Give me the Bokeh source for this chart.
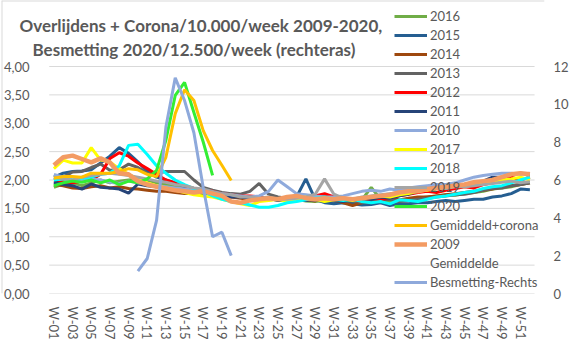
from bokeh.plotting import figure
from bokeh.models import (Range1d, LinearAxis, FixedTicker, Span,
                          CustomJSTickFormatter, Legend, LegendItem, Label)
from bokeh.embed import file_html
from bokeh.resources import INLINE

weeks = ["W-01", "W-02", "W-03", "W-04", "W-05", "W-06", "W-07", "W-08", "W-09", "W-10",
         "W-11", "W-12", "W-13", "W-14", "W-15", "W-16", "W-17", "W-18", "W-19", "W-20",
         "W-21", "W-22", "W-23", "W-24", "W-25", "W-26", "W-27", "W-28", "W-29", "W-30",
         "W-31", "W-32", "W-33", "W-34", "W-35", "W-36", "W-37", "W-38", "W-39", "W-40",
         "W-41", "W-42", "W-43", "W-44", "W-45", "W-46", "W-47", "W-48", "W-49", "W-50",
         "W-51", "W-52"]
week_nums = list(range(1, len(weeks) + 1))

y2016 = [1.87, 1.93, 1.95, 1.90, 1.95, 2.00, 1.95, 1.98, 2.00, 2.02,
         2.00, 1.95, 1.92, 1.88, 1.85, 1.82, 1.80, 1.78, 1.75, 1.72,
         1.70, 1.68, 1.66, 1.66, 1.65, 1.64, 1.66, 1.63, 1.62, 1.64,
         1.62, 1.63, 1.60, 1.65, 1.87, 1.66, 1.62, 1.63, 1.66, 1.68,
         1.70, 1.72, 1.74, 1.73, 1.76, 1.78, 1.80, 1.84, 1.86, 1.88, 1.92, 1.95]
y2015 = [2.05, 2.12, 2.15, 2.16, 2.18, 2.30, 2.42, 2.57, 2.47, 2.32,
         2.15, 2.05, 2.00, 1.95, 1.88, 1.85, 1.80, 1.78, 1.76, 1.72,
         1.70, 1.70, 1.68, 1.66, 1.65, 1.66, 1.70, 2.02, 1.66, 1.60,
         1.58, 1.60, 1.58, 1.56, 1.57, 1.60, 1.55, 1.58, 1.58, 1.60,
         1.60, 1.62, 1.64, 1.62, 1.64, 1.66, 1.66, 1.70, 1.72, 1.76, 1.84, 1.83]
y2014 = [1.92, 1.90, 1.86, 1.85, 1.88, 1.90, 1.86, 1.88, 1.85, 1.84,
         1.82, 1.80, 1.80, 1.78, 1.76, 1.76, 1.75, 1.72, 1.70, 1.70,
         1.68, 1.66, 1.67, 1.65, 1.66, 1.64, 1.68, 1.65, 1.63, 1.72,
         1.65, 1.60, 1.55, 1.60, 1.62, 1.64, 1.70, 1.65, 1.68, 1.70,
         1.70, 1.72, 1.74, 1.76, 1.78, 1.80, 1.82, 1.84, 1.88, 1.90, 1.92, 1.95]
y2013 = [2.00, 2.05, 2.14, 2.15, 2.22, 2.28, 2.17, 2.18, 2.28, 2.22,
         2.12, 2.12, 2.15, 2.15, 2.15, 2.00, 1.87, 1.82, 1.78, 1.76,
         1.75, 1.80, 1.94, 1.75, 1.70, 1.68, 1.66, 1.65, 1.64, 1.66,
         1.64, 1.62, 1.64, 1.60, 1.62, 1.64, 1.66, 1.62, 1.64, 1.66,
         1.68, 1.70, 1.72, 1.74, 1.75, 1.78, 1.82, 1.85, 1.86, 1.90, 1.92, 1.95]
y2012 = [1.95, 1.97, 1.95, 1.98, 2.00, 2.10, 2.38, 2.48, 2.42, 2.30,
         2.20, 2.10, 2.00, 1.95, 1.90, 1.85, 1.82, 1.80, 1.76, 1.74,
         1.72, 1.72, 1.70, 1.68, 1.66, 1.70, 1.68, 1.64, 1.72, 1.76,
         1.70, 1.66, 1.65, 1.62, 1.68, 1.64, 1.70, 1.72, 1.75, 1.78,
         1.80, 1.78, 1.82, 1.85, 1.88, 1.86, 1.92, 1.95, 2.02, 2.05, 2.00, 2.05]
y2011 = [1.96, 1.92, 1.90, 1.84, 1.93, 1.87, 1.86, 1.84, 1.77, 1.93,
         1.90, 1.88, 1.85, 1.82, 1.80, 1.78, 1.76, 1.75, 1.72, 1.70,
         1.70, 1.68, 1.66, 1.68, 1.64, 1.66, 1.66, 1.64, 1.68, 1.66,
         1.64, 1.62, 1.66, 1.68, 1.66, 1.70, 1.68, 1.72, 1.75, 1.80,
         1.86, 1.88, 1.85, 1.90, 1.92, 1.95, 1.98, 2.05, 2.05, 2.10, 2.12, 2.10]
y2010 = [2.10, 2.05, 2.00, 1.98, 2.02, 2.00, 1.96, 1.94, 1.98, 1.95,
         1.92, 1.90, 1.88, 1.86, 1.84, 1.82, 1.78, 1.78, 1.76, 1.74,
         1.72, 1.70, 1.72, 1.80, 2.00, 1.88, 1.76, 1.74, 1.72, 1.70,
         1.70, 1.72, 1.76, 1.80, 1.82, 1.80, 1.84, 1.82, 1.86, 1.88,
         1.90, 1.92, 1.92, 1.95, 2.00, 2.05, 2.08, 2.10, 2.12, 2.12, 2.10, 2.12]
y2017 = [2.20, 2.35, 2.30, 2.30, 2.57, 2.35, 2.32, 2.20, 2.10, 2.02,
         1.95, 1.90, 1.86, 1.82, 1.78, 1.74, 1.72, 1.70, 1.66, 1.62,
         1.58, 1.55, 1.62, 1.64, 1.66, 1.62, 1.66, 1.70, 1.66, 1.62,
         1.65, 1.66, 1.64, 1.68, 1.70, 1.72, 1.70, 1.74, 1.76, 1.80,
         1.82, 1.85, 1.86, 1.90, 1.88, 1.92, 1.95, 1.98, 2.00, 2.02, 2.05, 2.00]
y2018 = [2.00, 2.02, 2.00, 2.03, 2.05, 2.10, 2.12, 2.25, 2.61, 2.63,
         2.45, 2.25, 2.12, 2.00, 1.92, 1.85, 1.80, 1.72, 1.66, 1.62,
         1.60, 1.56, 1.52, 1.52, 1.55, 1.60, 1.62, 1.65, 1.68, 1.70,
         1.66, 1.64, 1.66, 1.62, 1.60, 1.62, 1.58, 1.65, 1.64, 1.62,
         1.66, 1.70, 1.72, 1.75, 1.78, 1.80, 1.85, 1.88, 1.90, 1.95, 2.00, 2.05]
y2019 = [2.05, 2.02, 2.00, 2.05, 2.08, 2.10, 2.12, 2.10, 2.08, 2.05,
         2.02, 1.98, 1.96, 1.92, 1.90, 1.86, 1.84, 1.80, 1.76, 1.74,
         1.70, 1.70, 1.68, 1.70, 1.66, 1.66, 1.68, 1.70, 1.75, 2.02,
         1.75, 1.68, 1.66, 1.70, 1.72, 1.74, 1.76, 1.78, 1.80, 1.82,
         1.84, 1.86, 1.85, 1.88, 1.88, 1.90, 1.92, 1.94, 1.96, 1.98, 1.95, 1.97]
y2020 = [1.90, 1.95, 1.98, 1.96, 2.00, 1.95, 2.00, 1.92, 1.98, 1.95,
         2.02, 2.17, 2.70, 3.49, 3.72, 3.19, 2.67, 2.08]
y_gem_corona = [2.03, 2.06, 2.06, 2.05, 2.12, 2.12, 2.12, 2.15, 2.20, 2.18,
                2.10, 2.06, 2.40, 3.17, 3.59, 3.40, 2.87, 2.52, 2.26, 1.99]
y2009_gem = [2.26, 2.40, 2.43, 2.37, 2.31, 2.38, 2.31, 2.12, 2.10, 1.98,
             1.92, 1.88, 1.85, 1.82, 1.80, 1.78, 1.80, 1.76, 1.72, 1.62,
             1.60, 1.64, 1.66, 1.68, 1.66, 1.70, 1.72, 1.68, 1.66, 1.68,
             1.66, 1.68, 1.66, 1.68, 1.70, 1.72, 1.74, 1.78, 1.80, 1.80,
             1.84, 1.86, 1.88, 1.90, 1.92, 1.96, 1.98, 2.00, 2.05, 2.10, 2.12, 2.10]
besm_first_week = 10
besm_right = [1.18, 1.85, 3.86, 8.8, 11.4, 10.2, 8.5, 5.6, 3.0, 3.24, 2.0]
besm_nums = week_nums[besm_first_week - 1:besm_first_week - 1 + len(besm_right)]

left_ticks = [0, 0.5, 1.0, 1.5, 2.0, 2.5, 3.0, 3.5, 4.0]
right_ticks = [0, 2, 4, 6, 8, 10, 12]
x_ticks = week_nums[::2]
title1 = "Overlijdens + Corona/10.000/week  2009-2020,"
title2 = "Besmetting  2020/12.500/week   (rechteras)"

TXT = "#595959"
FONT = "Lato"
FS = "13px"

colors = {"2016": "#70AD47", "2015": "#255E91", "2014": "#9E480E", "2013": "#636363",
          "2012": "#FF0000", "2011": "#264478", "2010": "#8FAADC", "2017": "#FFFF00",
          "2018": "#00FFFF", "2019": "#A5A5A5", "2020": "#33EE33",
          "Gemiddeld+corona": "#FFC000", "2009": "#F39B63", "Besmetting-Rechts": "#8EA9DB"}
W = 3

# ---- layout geometry (pixels) ----
WIDTH, HEIGHT = 571, 350
PLOT_L, PLOT_R, PLOT_T, PLOT_B = 48, 536, 66, 293   # chart area of the reference
FRAME_R = 546                                        # frame reaches a bit further right
n = len(weeks)
px_per_week = (PLOT_R - PLOT_L) / n
x_start = 0.5 - PLOT_L / px_per_week
x_end = 0.5 + (FRAME_R - PLOT_L) / px_per_week
y_top = left_ticks[-1]
y_end = y_top * PLOT_B / (PLOT_B - PLOT_T)
r_end = right_ticks[-1] * PLOT_B / (PLOT_B - PLOT_T)

p = figure(width=WIDTH, height=HEIGHT, x_range=Range1d(x_start, x_end),
           y_range=Range1d(0, y_end), output_backend="svg", toolbar_location=None,
           min_border_left=0, min_border_right=WIDTH - FRAME_R, min_border_top=0,
           min_border_bottom=HEIGHT - PLOT_B)
p.title.visible = False
p.outline_line_color = None
p.background_fill_color = "white"
p.border_fill_color = "white"
p.xgrid.visible = False
p.ygrid.visible = False

# horizontal gridlines limited to the chart area
p.segment(x0=[0.5] * len(left_ticks), x1=[n + 0.5] * len(left_ticks),
          y0=left_ticks, y1=left_ticks, line_color="#D9D9D9", line_width=1)

yax = p.yaxis[0]
yax.ticker = FixedTicker(ticks=left_ticks)
yax.formatter = CustomJSTickFormatter(code="return tick.toFixed(2).replace('.', ',');")
xax = p.xaxis[0]
xax.ticker = FixedTicker(ticks=x_ticks)
xax.formatter = CustomJSTickFormatter(args=dict(labels=weeks),
                                      code="return labels[Math.round(tick) - 1] || '';")
xax.major_label_orientation = "vertical"
for ax in (xax, yax):
    ax.axis_line_color = None
    ax.major_tick_line_color = None
    ax.minor_tick_line_color = None
    ax.major_label_text_color = TXT
    ax.major_label_text_font = FONT
    ax.major_label_text_font_size = FS
yax.major_label_standoff = -34
xax.major_label_standoff = 7

p.extra_y_ranges = {"right": Range1d(0, r_end)}
rax = LinearAxis(y_range_name="right", ticker=FixedTicker(ticks=right_ticks))
rax.axis_line_color = None
rax.major_tick_line_color = None
rax.minor_tick_line_color = None
rax.major_label_text_color = TXT
rax.major_label_text_font = FONT
rax.major_label_text_font_size = FS
rax.major_label_standoff = 3
p.add_layout(rax, "right")

r16 = p.line(week_nums, y2016, line_color=colors["2016"], line_width=W)
r15 = p.line(week_nums, y2015, line_color=colors["2015"], line_width=W)
r14 = p.line(week_nums, y2014, line_color=colors["2014"], line_width=W)
r13 = p.line(week_nums, y2013, line_color=colors["2013"], line_width=W)
r12 = p.line(week_nums, y2012, line_color=colors["2012"], line_width=W)
r11 = p.line(week_nums, y2011, line_color=colors["2011"], line_width=W)
r10 = p.line(week_nums, y2010, line_color=colors["2010"], line_width=W)
r17 = p.line(week_nums, y2017, line_color=colors["2017"], line_width=W)
r18 = p.line(week_nums, y2018, line_color=colors["2018"], line_width=W)
r19 = p.line(week_nums, y2019, line_color=colors["2019"], line_width=W)
r20 = p.line(week_nums[:len(y2020)], y2020, line_color=colors["2020"], line_width=W)
rgc = p.line(week_nums[:len(y_gem_corona)], y_gem_corona,
             line_color=colors["Gemiddeld+corona"], line_width=W)
r09 = p.line(week_nums, y2009_gem, line_color=colors["2009"], line_width=4.5)
rgem = p.line(week_nums, y2009_gem, line_alpha=0)
rbes = p.line(besm_nums, besm_right, line_color=colors["Besmetting-Rechts"],
              line_width=W, y_range_name="right")

legend = Legend(items=[
    LegendItem(label="2016", renderers=[r16]),
    LegendItem(label="2015", renderers=[r15]),
    LegendItem(label="2014", renderers=[r14]),
    LegendItem(label="2013", renderers=[r13]),
    LegendItem(label="2012", renderers=[r12]),
    LegendItem(label="2011", renderers=[r11]),
    LegendItem(label="2010", renderers=[r10]),
    LegendItem(label="2017", renderers=[r17]),
    LegendItem(label="2018", renderers=[r18]),
    LegendItem(label="2019", renderers=[r19]),
    LegendItem(label="2020", renderers=[r20]),
    LegendItem(label="Gemiddeld+corona", renderers=[rgc]),
    LegendItem(label="2009", renderers=[r09]),
    LegendItem(label="Gemiddelde", renderers=[rgem]),
    LegendItem(label="Besmetting-Rechts", renderers=[rbes]),
], location=(393, 2))
legend.background_fill_alpha = 0
legend.border_line_alpha = 0
legend.padding = 0
legend.margin = 0
legend.spacing = 1
legend.label_height = 18
legend.glyph_height = 18
legend.glyph_width = 33
legend.label_standoff = 3
legend.label_text_font = FONT
legend.label_text_font_size = FS
legend.label_text_color = TXT
legend.level = "underlay"
p.add_layout(legend)

for txt, xs, ys in ((title1, 18, 25), (title2, 31, 49)):
    p.add_layout(Label(x=xs, y=PLOT_B - ys, x_units="screen", y_units="screen", text=txt,
                       text_baseline="middle", text_align="left", text_font=FONT,
                       text_font_style="bold", text_font_size="17px", text_color=TXT))

# light chart-area border (top and left edges)
p.add_layout(Span(location=y_end, dimension="width", line_color="#D9D9D9", line_width=2))
p.add_layout(Span(location=x_start, dimension="height", line_color="#D9D9D9", line_width=2))

open("out.html", "w").write(file_html(p, INLINE))
